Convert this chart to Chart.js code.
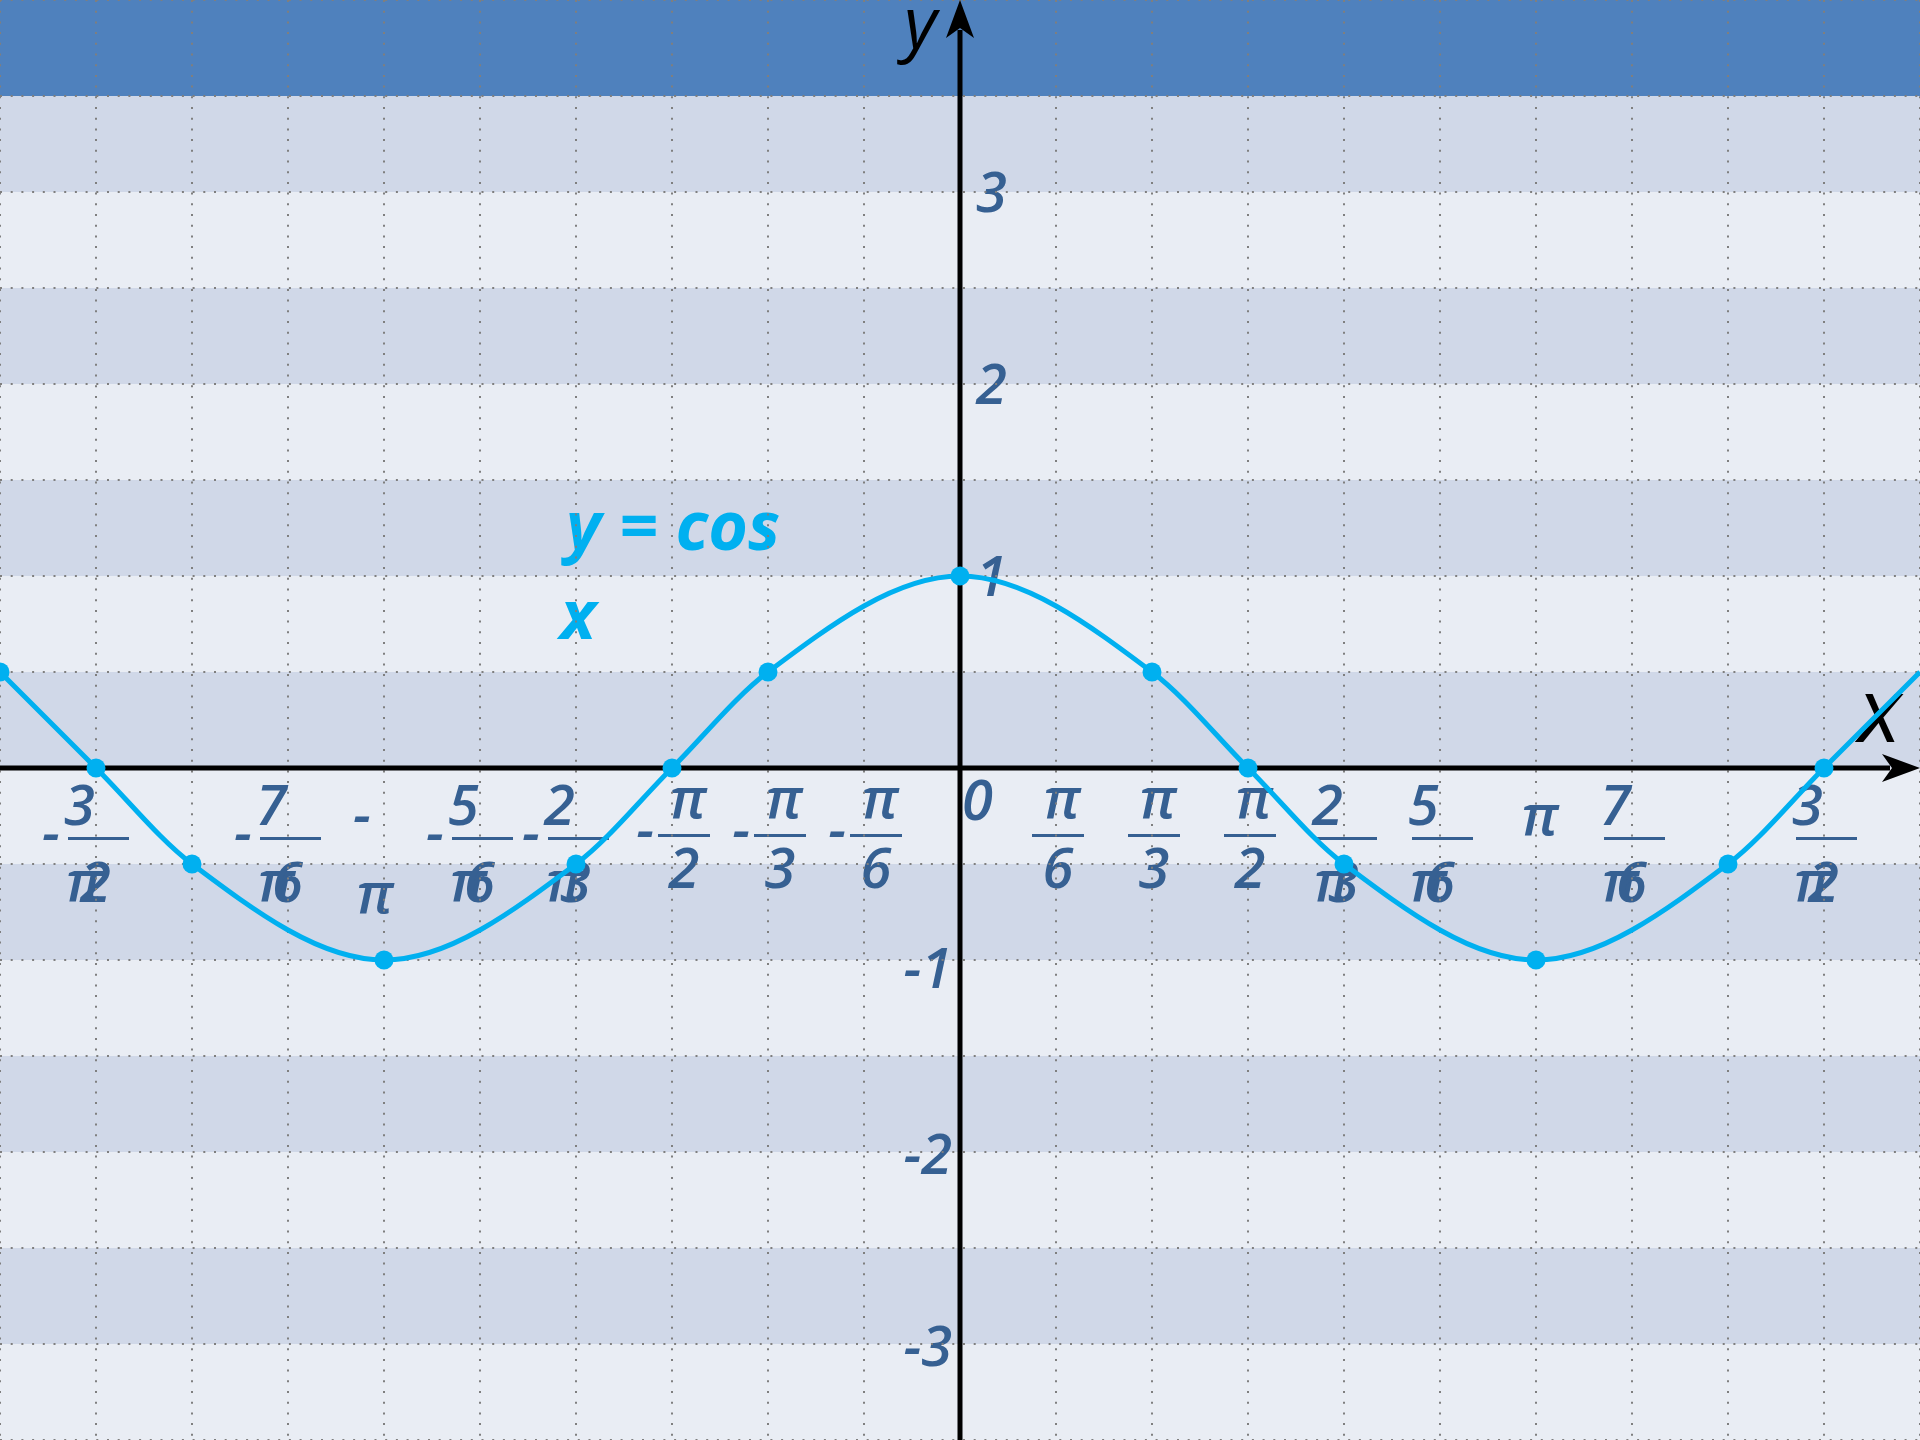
<!DOCTYPE html>
<html>
<head>
<meta charset="utf-8">
<script src="https://cdn.jsdelivr.net/npm/chart.js@4.4.1/dist/chart.umd.min.js"></script>
<style>
html,body{margin:0;padding:0;background:#ffffff;overflow:hidden}
canvas{display:block}
</style>
</head>
<body>
<canvas id="c" width="1920" height="1440"></canvas>
<script>
const PI = Math.PI;

// marked points of the curve (x in radians, y)
const pointX = [-5*PI/3, -3*PI/2, -4*PI/3, -PI, -2*PI/3, -PI/2, -PI/3, 0, PI/3, PI/2, 2*PI/3, PI, 4*PI/3, 3*PI/2, 5*PI/3];
const pointY = [0.5, 0, -0.5, -1, -0.5, 0, 0.5, 1, 0.5, 0, -0.5, -1, -0.5, 0, 0.5];

// x tick labels
const xTickValues = [-3*PI/2, -7*PI/6, -PI, -5*PI/6, -2*PI/3, -PI/2, -PI/3, -PI/6, 0, PI/6, PI/3, PI/2, 2*PI/3, 5*PI/6, PI, 7*PI/6, 3*PI/2];
const xTickLabels = ['-3π/2', '-7π/6', '-π', '-5π/6', '-2π/3', '-π/2', '-π/3', '-π/6', '0', 'π/6', 'π/3', 'π/2', '2π/3', '5π/6', 'π', '7π/6', '3π/2'];

// y tick labels
const yTickValues = [-3, -2, -1, 1, 2, 3];
const yTickLabels = ['-3', '-2', '-1', '1', '2', '3'];

// axis extents and grid
const xMin = -5*PI/3, xMax = 5*PI/3;
const yMin = -3.5, yMax = 4;
const xGridSteps = [-10,-9,-8,-7,-6,-5,-4,-3,-2,-1,0,1,2,3,4,5,6,7,8,9,10]; // multiples of π/6
const yGridStep = 0.5;
const bandLows = [-3.5,-3,-2.5,-2,-1.5,-1,-0.5,0,0.5,1,1.5,2,2.5,3,3.5];

const functionLabel = ['y = cos', 'x'];
const axisNameX = 'x', axisNameY = 'y';

const FONT = '"Open Sans", "Noto Sans", sans-serif';
const LABEL_FONT = 'italic 600 56px ' + FONT;
const LABEL_COLOR = '#366092';
const CURVE_COLOR = '#00b0f0';

function bandColor(lo) {
  if (lo === 3.5) return '#4f81bd';
  return Number.isInteger(lo) ? '#d0d8e8' : '#e9edf4';
}

function drawXLabel(ctx, label, px) {
  ctx.font = LABEL_FONT;
  ctx.fillStyle = LABEL_COLOR;
  ctx.textBaseline = 'alphabetic';
  const neg = label.startsWith('-');
  const body = neg ? label.slice(1) : label;
  if (body === '0') {
    ctx.textAlign = 'left';
    ctx.fillText('0', px + 2, 820);
    return;
  }
  if (body === 'π') {
    ctx.textAlign = 'center';
    if (neg) {
      ctx.fillText('-', px - 22, 834);
      ctx.fillText('π', px - 9, 913);
    } else {
      ctx.fillText('π', px + 4, 835);
    }
    return;
  }
  const parts = body.split('/');
  const num = parts[0], den = parts[1];
  if (num === 'π') {
    const w = 52;
    const cx = px + (neg ? 12 : 2);
    ctx.fillRect(cx - w/2, 834, w, 3);
    ctx.textAlign = 'center';
    ctx.fillText('π', cx + 4, 818);
    ctx.fillText(den, cx, 888);
    if (neg) {
      ctx.textAlign = 'right';
      ctx.fillText('-', cx - w/2 - 4, 849);
    }
  } else {
    const digit = num.replace('π', '');
    const w = 61;
    const L = px - 28;
    ctx.fillRect(L, 837, w, 3);
    ctx.textAlign = 'left';
    ctx.fillText(digit, L - 4, 825);
    ctx.fillText('π', L - 2, 901);
    ctx.fillText(den, L + 12, 902);
    if (neg) {
      ctx.fillText('-', px - 54, 852);
    }
  }
}

const decorPlugin = {
  id: 'decor',
  beforeDraw(chart) {
    const {ctx, chartArea, scales} = chart;
    const x = scales.x, y = scales.y;
    ctx.save();
    // background bands
    bandLows.forEach(lo => {
      const top = y.getPixelForValue(lo + yGridStep);
      const bot = y.getPixelForValue(lo);
      ctx.fillStyle = bandColor(lo);
      ctx.fillRect(chartArea.left, top, chartArea.right - chartArea.left, bot - top);
    });
    // x tick labels
    xTickValues.forEach((v, i) => drawXLabel(ctx, xTickLabels[i], x.getPixelForValue(v)));
    // y tick labels
    ctx.font = LABEL_FONT;
    ctx.fillStyle = LABEL_COLOR;
    ctx.textBaseline = 'alphabetic';
    const x0 = x.getPixelForValue(0);
    yTickValues.forEach((v, i) => {
      const py = y.getPixelForValue(v);
      if (v > 0) { ctx.textAlign = 'left'; ctx.fillText(yTickLabels[i], x0 + 16, py + 20); }
      else { ctx.textAlign = 'right'; ctx.fillText(yTickLabels[i], x0 - 8, py + (v === -1 ? 28 : 22)); }
    });
    // function label
    ctx.font = 'italic bold 68px ' + FONT;
    ctx.fillStyle = CURVE_COLOR;
    ctx.textAlign = 'left';
    ctx.fillText(functionLabel[0], 566, 550);
    ctx.fillText(functionLabel[1], 560, 639);
    // axis names
    ctx.fillStyle = '#000000';
    ctx.font = 'italic 71px ' + FONT;
    ctx.fillText(axisNameY, 904, 48);
    ctx.font = 'italic 90px ' + FONT;
    ctx.fillText(axisNameX, 1858, 742);
    ctx.restore();
  },
  beforeDatasetsDraw(chart) {
    const {ctx, chartArea, scales} = chart;
    const x0 = scales.x.getPixelForValue(0);
    const y0 = scales.y.getPixelForValue(0);
    ctx.save();
    ctx.strokeStyle = '#000000';
    ctx.fillStyle = '#000000';
    ctx.lineWidth = 5;
    ctx.beginPath();
    ctx.moveTo(chartArea.left, y0);
    ctx.lineTo(chartArea.right - 30, y0);
    ctx.moveTo(x0, chartArea.bottom);
    ctx.lineTo(x0, chartArea.top + 30);
    ctx.stroke();
    // x arrow
    const r = chartArea.right, t = chartArea.top;
    ctx.beginPath();
    ctx.moveTo(r, y0);
    ctx.lineTo(r - 38, y0 - 14);
    ctx.lineTo(r - 28, y0);
    ctx.lineTo(r - 38, y0 + 14);
    ctx.closePath();
    ctx.fill();
    // y arrow
    ctx.beginPath();
    ctx.moveTo(x0, t);
    ctx.lineTo(x0 - 14, t + 38);
    ctx.lineTo(x0, t + 28);
    ctx.lineTo(x0 + 14, t + 38);
    ctx.closePath();
    ctx.fill();
    ctx.restore();
  }
};

const gridOpts = { color: '#7f7f7f', lineWidth: 2, drawTicks: false };
const borderOpts = { display: false, dash: [2, 8.7] };

new Chart(document.getElementById('c'), {
  type: 'line',
  data: {
    datasets: [{
      data: pointX.map((px, i) => ({ x: px, y: pointY[i] })),
      borderColor: CURVE_COLOR,
      backgroundColor: CURVE_COLOR,
      borderWidth: 5,
      pointRadius: c => (c.dataIndex === pointY.length - 1 ? 0 : 9.5),
      pointBackgroundColor: CURVE_COLOR,
      pointBorderWidth: 0,
      cubicInterpolationMode: 'monotone',
      fill: false
    }]
  },
  options: {
    responsive: false,
    animation: false,
    devicePixelRatio: 1,
    events: [],
    layout: { padding: 0, autoPadding: false },
    plugins: { legend: { display: false }, tooltip: { enabled: false } },
    scales: {
      x: {
        type: 'linear', min: xMin, max: xMax,
        afterBuildTicks: s => { s.ticks = xGridSteps.map(k => ({ value: k * PI / 6 })); },
        ticks: { display: false },
        grid: gridOpts, border: borderOpts
      },
      y: {
        type: 'linear', min: yMin, max: yMax,
        ticks: { display: false, stepSize: yGridStep },
        grid: gridOpts, border: borderOpts
      }
    }
  },
  plugins: [decorPlugin]
});
</script>
</body>
</html>
